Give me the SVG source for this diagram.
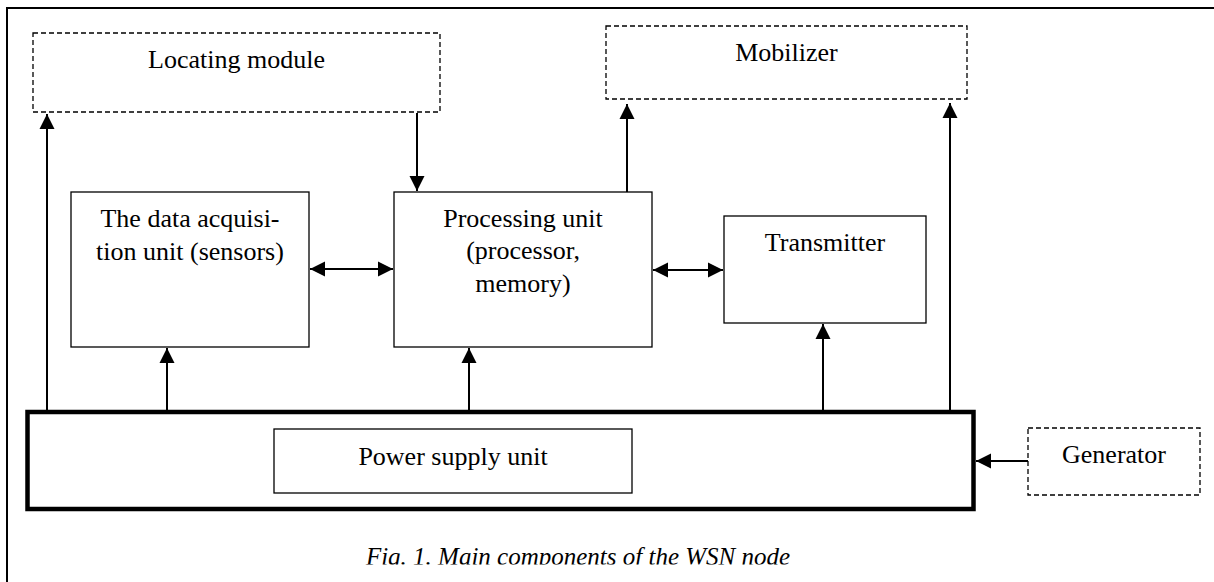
<svg xmlns="http://www.w3.org/2000/svg" width="1214" height="582" viewBox="0 0 1214 582">
  <style>
    .box { fill: #fff; stroke: #000; stroke-width: 1.3; }
    .dash { fill: #fff; stroke: #000; stroke-width: 1.3; stroke-dasharray: 5 3; }
    .thick { fill: #fff; stroke: #000; stroke-width: 4.5; }
    .lbl { font-family: "Liberation Serif", "Times New Roman", serif; font-size: 26px; fill: #000; text-anchor: middle; }
    .cap { font-family: "Liberation Serif", "Times New Roman", serif; font-size: 25px; font-style: italic; fill: #000; text-anchor: middle; }
    .conn { stroke: #000; stroke-width: 2; fill: none; }
  </style>
  <defs>
    <marker id="ah" markerUnits="userSpaceOnUse" markerWidth="16" markerHeight="16" viewBox="0 0 16 16" refX="15" refY="8" orient="auto-start-reverse">
      <path d="M0,0.5 L15,8 L0,15.5 Z" fill="#000"/>
    </marker>
    <clipPath id="capclip"><rect x="0" y="0" width="1214" height="564.5"/></clipPath>
  </defs>

  <rect width="1214" height="582" fill="#fff"/>
  <!-- outer frame -->
  <path d="M7,582 V8 H1214" fill="none" stroke="#000" stroke-width="2"/>

  <g id="power-unit">
    <rect class="thick" x="27.5" y="412" width="946" height="97"/>
    <rect class="box" x="274" y="429" width="358" height="64"/>
    <text class="lbl" x="453" y="465">Power supply unit</text>
  </g>

  <g id="locating-module">
    <rect class="dash" x="33" y="33" width="407" height="79"/>
    <text class="lbl" x="236.5" y="68">Locating module</text>
  </g>

  <g id="mobilizer">
    <rect class="dash" x="606" y="26" width="361" height="73"/>
    <text class="lbl" x="786.5" y="61">Mobilizer</text>
  </g>

  <g id="data-acquisition">
    <rect class="box" x="71" y="192" width="238" height="155"/>
    <text class="lbl" x="190" y="227">The data acquisi-</text>
    <text class="lbl" x="190" y="260">tion unit (sensors)</text>
  </g>

  <g id="processing-unit">
    <rect class="box" x="394" y="192" width="258" height="155"/>
    <text class="lbl" x="523" y="227">Processing unit</text>
    <text class="lbl" x="523" y="259">(processor,</text>
    <text class="lbl" x="523" y="292">memory)</text>
  </g>

  <g id="transmitter">
    <rect class="box" x="724" y="216" width="202" height="107"/>
    <text class="lbl" x="825" y="251">Transmitter</text>
  </g>

  <g id="generator">
    <rect class="dash" x="1028" y="428" width="172" height="67"/>
    <text class="lbl" x="1114" y="463">Generator</text>
  </g>

  <g id="connectors">
    <line class="conn" x1="47" y1="410" x2="47" y2="114" marker-end="url(#ah)"/>
    <line class="conn" x1="417" y1="113" x2="417" y2="191" marker-end="url(#ah)"/>
    <line class="conn" x1="627" y1="192" x2="627" y2="104" marker-end="url(#ah)"/>
    <line class="conn" x1="950" y1="410" x2="950" y2="103" marker-end="url(#ah)"/>
    <line class="conn" x1="167" y1="410" x2="167" y2="348" marker-end="url(#ah)"/>
    <line class="conn" x1="469" y1="410" x2="469" y2="348" marker-end="url(#ah)"/>
    <line class="conn" x1="823" y1="410" x2="823" y2="324" marker-end="url(#ah)"/>
    <line class="conn" x1="310" y1="269" x2="393" y2="269" marker-start="url(#ah)" marker-end="url(#ah)"/>
    <line class="conn" x1="653" y1="270" x2="723" y2="270" marker-start="url(#ah)" marker-end="url(#ah)"/>
    <line class="conn" x1="1028" y1="461" x2="976" y2="461" marker-end="url(#ah)"/>
  </g>

  <text class="cap" x="578" y="565" clip-path="url(#capclip)">Fig. 1. Main components of the WSN node</text>
</svg>
